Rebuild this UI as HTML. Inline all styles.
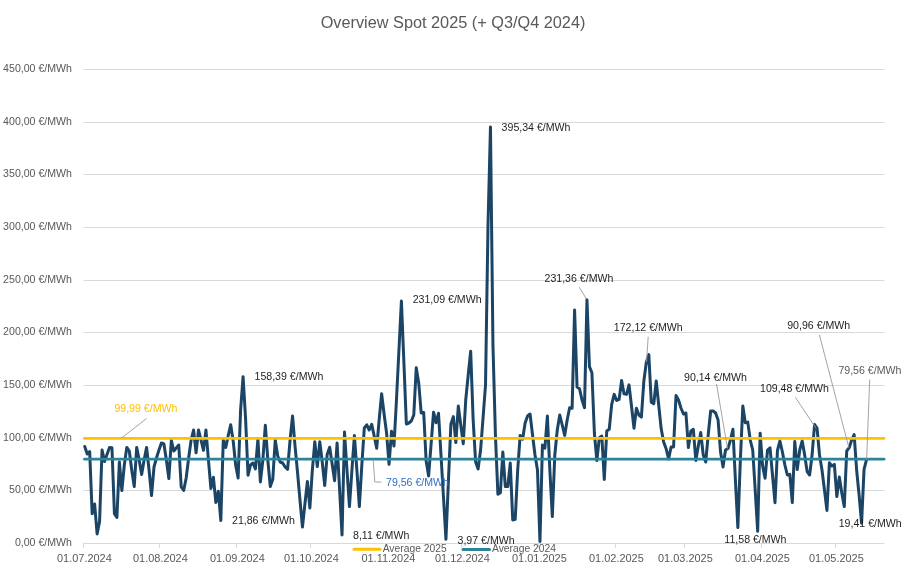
<!DOCTYPE html>
<html><head><meta charset="utf-8"><style>
html,body{margin:0;padding:0;background:#fff;width:906px;height:569px;overflow:hidden}
svg{display:block;will-change:transform}
text{font-family:"Liberation Sans", sans-serif}
.ax{font-size:10.6px;fill:#595959}
.xl{font-size:10.95px;fill:#595959}
.dl{font-size:10.6px}
.lg{font-size:10.3px;fill:#595959}
.ti{font-size:16.3px;fill:#595959}
</style></head><body>
<svg width="906" height="569" viewBox="0 0 906 569">
<rect width="906" height="569" fill="#fff"/>
<line x1="83.5" y1="490.50" x2="884.5" y2="490.50" stroke="#d9d9d9" stroke-width="1"/>
<line x1="83.5" y1="438.50" x2="884.5" y2="438.50" stroke="#d9d9d9" stroke-width="1"/>
<line x1="83.5" y1="385.50" x2="884.5" y2="385.50" stroke="#d9d9d9" stroke-width="1"/>
<line x1="83.5" y1="332.50" x2="884.5" y2="332.50" stroke="#d9d9d9" stroke-width="1"/>
<line x1="83.5" y1="280.50" x2="884.5" y2="280.50" stroke="#d9d9d9" stroke-width="1"/>
<line x1="83.5" y1="227.50" x2="884.5" y2="227.50" stroke="#d9d9d9" stroke-width="1"/>
<line x1="83.5" y1="174.50" x2="884.5" y2="174.50" stroke="#d9d9d9" stroke-width="1"/>
<line x1="83.5" y1="122.50" x2="884.5" y2="122.50" stroke="#d9d9d9" stroke-width="1"/>
<line x1="83.5" y1="69.50" x2="884.5" y2="69.50" stroke="#d9d9d9" stroke-width="1"/>
<text x="72" y="546.10" text-anchor="end" class="ax">0,00 €/MWh</text>
<text x="72" y="493.43" text-anchor="end" class="ax">50,00 €/MWh</text>
<text x="72" y="440.77" text-anchor="end" class="ax">100,00 €/MWh</text>
<text x="72" y="388.10" text-anchor="end" class="ax">150,00 €/MWh</text>
<text x="72" y="335.43" text-anchor="end" class="ax">200,00 €/MWh</text>
<text x="72" y="282.77" text-anchor="end" class="ax">250,00 €/MWh</text>
<text x="72" y="230.10" text-anchor="end" class="ax">300,00 €/MWh</text>
<text x="72" y="177.43" text-anchor="end" class="ax">350,00 €/MWh</text>
<text x="72" y="124.77" text-anchor="end" class="ax">400,00 €/MWh</text>
<text x="72" y="72.10" text-anchor="end" class="ax">450,00 €/MWh</text>
<line x1="83" y1="543.5" x2="884.5" y2="543.5" stroke="#d9d9d9" stroke-width="1"/>
<line x1="83.5" y1="543" x2="83.5" y2="548" stroke="#d9d9d9" stroke-width="1"/>
<text x="84.4" y="561.6" text-anchor="middle" class="xl">01.07.2024</text>
<line x1="159.5" y1="543" x2="159.5" y2="548" stroke="#d9d9d9" stroke-width="1"/>
<text x="160.4" y="561.6" text-anchor="middle" class="xl">01.08.2024</text>
<line x1="236.5" y1="543" x2="236.5" y2="548" stroke="#d9d9d9" stroke-width="1"/>
<text x="237.4" y="561.6" text-anchor="middle" class="xl">01.09.2024</text>
<line x1="310.5" y1="543" x2="310.5" y2="548" stroke="#d9d9d9" stroke-width="1"/>
<text x="311.4" y="561.6" text-anchor="middle" class="xl">01.10.2024</text>
<line x1="387.5" y1="543" x2="387.5" y2="548" stroke="#d9d9d9" stroke-width="1"/>
<text x="388.4" y="561.6" text-anchor="middle" class="xl">01.11.2024</text>
<line x1="461.5" y1="543" x2="461.5" y2="548" stroke="#d9d9d9" stroke-width="1"/>
<text x="462.4" y="561.6" text-anchor="middle" class="xl">01.12.2024</text>
<line x1="538.5" y1="543" x2="538.5" y2="548" stroke="#d9d9d9" stroke-width="1"/>
<text x="539.4" y="561.6" text-anchor="middle" class="xl">01.01.2025</text>
<line x1="615.5" y1="543" x2="615.5" y2="548" stroke="#d9d9d9" stroke-width="1"/>
<text x="616.4" y="561.6" text-anchor="middle" class="xl">01.02.2025</text>
<line x1="684.5" y1="543" x2="684.5" y2="548" stroke="#d9d9d9" stroke-width="1"/>
<text x="685.4" y="561.6" text-anchor="middle" class="xl">01.03.2025</text>
<line x1="761.5" y1="543" x2="761.5" y2="548" stroke="#d9d9d9" stroke-width="1"/>
<text x="762.4" y="561.6" text-anchor="middle" class="xl">01.04.2025</text>
<line x1="835.5" y1="543" x2="835.5" y2="548" stroke="#d9d9d9" stroke-width="1"/>
<text x="836.4" y="561.6" text-anchor="middle" class="xl">01.05.2025</text>
<polyline points="84.74,446.50 87.21,454.00 89.69,451.50 92.16,513.70 94.63,504.00 97.11,534.00 99.58,521.50 102.05,450.00 104.53,461.50 107.00,454.40 109.48,447.40 111.95,447.80 114.42,513.60 116.90,517.50 119.37,462.00 121.85,490.60 124.32,465.00 126.80,447.40 129.27,451.00 131.74,470.00 134.22,486.60 136.69,447.40 139.16,460.00 141.64,474.60 144.11,460.00 146.59,447.40 149.06,470.00 151.53,495.50 154.01,467.00 156.48,458.00 158.96,450.00 161.43,443.00 163.91,444.00 166.38,460.00 168.85,478.60 171.33,440.40 173.80,451.00 176.28,448.00 178.75,445.00 181.22,487.00 183.70,490.50 186.17,478.00 188.65,458.00 191.12,440.00 193.59,430.00 196.07,452.80 198.54,430.00 201.01,440.00 203.49,450.30 205.96,430.00 208.44,460.00 210.91,488.50 213.39,477.30 215.86,502.50 218.33,491.20 220.81,520.50 223.28,440.00 225.75,447.50 228.23,435.60 230.70,424.80 233.18,441.00 235.65,465.00 238.12,478.00 240.60,410.00 243.07,376.70 245.55,418.00 248.02,475.30 250.50,465.00 252.97,463.00 255.44,468.90 257.92,439.00 260.39,481.90 262.87,460.00 265.34,425.20 267.81,460.00 270.29,486.60 272.76,479.30 275.24,440.00 277.71,456.00 280.18,462.00 282.66,463.00 285.13,467.00 287.61,469.30 290.08,440.00 292.55,415.90 295.03,446.00 297.50,472.00 299.98,500.00 302.45,527.00 304.92,504.00 307.40,481.50 309.87,508.00 312.35,470.00 314.82,441.70 317.29,466.60 319.77,441.70 322.24,462.00 324.72,485.50 327.19,454.40 329.66,447.20 332.14,464.00 334.61,480.70 337.09,443.00 339.56,489.00 342.03,535.00 344.51,432.00 346.98,470.00 349.46,506.60 351.93,470.00 354.40,435.50 356.88,470.00 359.35,506.60 361.83,465.00 364.30,428.00 366.77,424.80 369.25,430.00 371.72,424.30 374.20,436.00 376.67,448.30 379.14,420.00 381.62,393.80 384.09,414.00 386.57,433.00 389.04,464.30 391.51,431.30 393.99,446.00 396.46,400.00 398.94,350.00 401.41,301.00 403.88,362.00 406.36,424.00 408.83,423.00 411.31,421.00 413.78,415.00 416.25,367.80 418.73,383.00 421.20,413.00 423.68,412.50 426.15,461.00 428.62,476.00 431.10,444.00 433.57,412.20 436.05,422.70 438.52,413.30 440.99,455.00 443.47,497.00 445.94,539.30 448.42,481.00 450.89,424.00 453.36,416.60 455.84,442.60 458.31,406.10 460.78,425.00 463.26,443.70 465.73,400.00 468.21,375.00 470.68,351.20 473.15,420.00 475.63,462.00 478.10,469.00 480.58,450.00 483.05,418.00 485.52,385.00 488.00,225.00 490.47,127.10 492.95,345.00 495.42,435.00 497.89,494.30 500.37,492.70 502.84,452.00 505.32,486.60 507.79,486.60 510.26,463.00 512.74,520.00 515.21,519.40 517.69,470.00 520.16,435.40 522.63,439.30 525.11,423.00 527.58,416.00 530.06,414.00 532.53,435.00 535.00,455.00 537.48,470.00 539.95,541.50 542.43,445.00 544.90,448.20 547.38,416.10 549.85,470.00 552.32,516.60 554.80,455.00 557.27,430.00 559.75,415.00 562.22,425.00 564.69,435.40 567.17,420.00 569.64,407.80 572.12,408.30 574.59,310.00 577.06,387.10 579.54,388.70 582.01,400.00 584.49,407.80 586.96,299.80 589.43,366.60 591.91,372.70 594.38,433.00 596.86,460.50 599.33,437.70 601.80,436.00 604.28,479.50 606.75,431.00 609.23,429.30 611.70,404.40 614.17,394.40 616.65,400.50 619.12,399.40 621.60,380.40 624.07,393.90 626.54,394.40 629.02,384.90 631.49,406.00 633.97,428.20 636.44,408.30 638.91,415.00 641.39,417.10 643.86,381.00 646.34,362.20 648.81,354.60 651.28,402.20 653.76,403.80 656.23,381.00 658.71,405.00 661.18,428.80 663.65,442.00 666.13,448.70 668.60,459.00 671.08,447.00 673.55,447.00 676.02,395.50 678.50,400.00 680.97,408.00 683.45,414.00 685.92,413.00 688.39,447.60 690.87,431.00 693.34,429.30 695.82,460.50 698.29,446.00 700.76,432.60 703.24,455.00 705.71,462.00 708.19,435.00 710.66,411.00 713.13,411.00 715.61,413.00 718.08,420.00 720.56,452.00 723.03,467.00 725.50,450.00 727.98,448.50 730.45,440.00 732.93,429.30 735.40,480.00 737.87,527.60 740.35,460.00 742.82,406.00 745.30,422.70 747.77,422.10 750.24,440.00 752.72,450.00 755.19,490.00 757.67,531.30 760.14,433.20 762.61,466.00 765.09,478.20 767.56,450.00 770.03,447.80 772.51,475.00 774.98,502.70 777.46,450.50 779.93,441.00 782.40,452.00 784.88,465.00 787.35,475.00 789.83,474.40 792.30,502.60 794.77,441.50 797.25,469.50 799.72,450.00 802.20,441.00 804.67,455.00 807.14,471.60 809.62,475.00 812.09,455.00 814.57,424.50 817.04,428.20 819.51,455.00 821.99,470.00 824.46,490.00 826.94,510.40 829.41,462.80 831.88,466.00 834.36,464.40 836.83,496.60 839.31,477.10 841.78,493.00 844.25,506.60 846.73,451.00 849.20,447.70 851.68,440.00 854.15,434.60 856.62,470.00 859.10,495.00 861.57,523.20 864.05,469.40 866.52,459.70" fill="none" stroke="#1b4465" stroke-width="3" stroke-linejoin="round" stroke-linecap="round"/>
<line x1="84.5" y1="438.4" x2="884" y2="438.4" stroke="#ffc000" stroke-width="2.8" stroke-linecap="round"/>
<line x1="84.5" y1="459.2" x2="884" y2="459.2" stroke="#2b8499" stroke-width="2.8" stroke-linecap="round"/>
<polyline points="146.6,418.5 121.3,438.2" fill="none" stroke="#9a9a9a" stroke-width="0.9"/>
<polyline points="373.2,459.7 374.8,482 381.5,482" fill="none" stroke="#9a9a9a" stroke-width="0.9"/>
<polyline points="579.3,287.2 586.3,298.8" fill="none" stroke="#9a9a9a" stroke-width="0.9"/>
<polyline points="648.2,336.8 646.5,362" fill="none" stroke="#9a9a9a" stroke-width="0.9"/>
<polyline points="716.5,384 727.5,448.5" fill="none" stroke="#9a9a9a" stroke-width="0.9"/>
<polyline points="795.4,397.3 816,428.2" fill="none" stroke="#9a9a9a" stroke-width="0.9"/>
<polyline points="819.4,334.8 848.9,447.7" fill="none" stroke="#9a9a9a" stroke-width="0.9"/>
<polyline points="869.7,379.5 866.6,459.7" fill="none" stroke="#9a9a9a" stroke-width="0.9"/>
<text x="254.5" y="379.5" class="dl" fill="#1f1f1f">158,39 €/MWh</text>
<text x="412.7" y="303.4" class="dl" fill="#1f1f1f">231,09 €/MWh</text>
<text x="501.6" y="130.9" class="dl" fill="#1f1f1f">395,34 €/MWh</text>
<text x="544.5" y="281.5" class="dl" fill="#1f1f1f">231,36 €/MWh</text>
<text x="613.8" y="330.7" class="dl" fill="#1f1f1f">172,12 €/MWh</text>
<text x="684" y="380.5" class="dl" fill="#1f1f1f">90,14 €/MWh</text>
<text x="760" y="391.5" class="dl" fill="#1f1f1f">109,48 €/MWh</text>
<text x="787.2" y="328.8" class="dl" fill="#1f1f1f">90,96 €/MWh</text>
<text x="838.4" y="373.7" class="dl" fill="#595959">79,56 €/MWh</text>
<text x="232" y="523.5" class="dl" fill="#1f1f1f">21,86 €/MWh</text>
<text x="353" y="538.5" class="dl" fill="#1f1f1f">8,11 €/MWh</text>
<text x="457.5" y="543.5" class="dl" fill="#1f1f1f">3,97 €/MWh</text>
<text x="724.3" y="542.8" class="dl" fill="#1f1f1f">11,58 €/MWh</text>
<text x="838.7" y="526.5" class="dl" fill="#1f1f1f">19,41 €/MWh</text>
<text x="114.4" y="411.7" class="dl" fill="#ffc000">99,99 €/MWh</text>
<text x="386" y="485.7" class="dl" fill="#2d6fc6">79,56 €/MWh</text>
<line x1="354" y1="549.3" x2="380" y2="549.3" stroke="#ffc000" stroke-width="3" stroke-linecap="round"/>
<text x="382.7" y="552.2" class="lg">Average 2025</text>
<line x1="463" y1="549.5" x2="489.5" y2="549.5" stroke="#2b8499" stroke-width="3" stroke-linecap="round"/>
<text x="492" y="552.4" class="lg">Average 2024</text>
<text x="453" y="27.8" text-anchor="middle" class="ti">Overview Spot 2025 (+ Q3/Q4 2024)</text>
</svg>
</body></html>
